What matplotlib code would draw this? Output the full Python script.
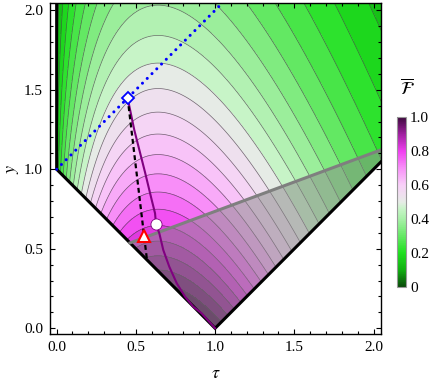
import numpy as np
import matplotlib
matplotlib.use("Agg")
import matplotlib.pyplot as plt
from matplotlib.colors import LinearSegmentedColormap, Normalize
from matplotlib.cm import ScalarMappable
from matplotlib.ticker import MultipleLocator, FormatStrFormatter

plt.rcParams['font.family'] = 'serif'
plt.rcParams['font.serif'] = ['Liberation Serif', 'DejaVu Serif']
plt.rcParams['mathtext.fontset'] = 'stix'

# average fidelity over the channel (tau, y); ensemble size
n_bar = 2.0
fid_levels = np.linspace(0.0, 1.0, 26)

# colour bar
cbar_stops = [0.0, 0.1, 0.2, 0.3, 0.4, 0.46, 0.5, 0.54, 0.6, 0.7, 0.8, 0.9, 1.0]
cbar_colors = ['#0a4a0a', '#10b010', '#20e020', '#64e864', '#a8f0a8', '#c8f4c8',
               '#e6ece6', '#eee0ee', '#f8d0f8', '#f890f8', '#f040f0', '#a020a0',
               '#3c0a3c']
cbar_ticks = [0.0, 0.2, 0.4, 0.6, 0.8, 1.0]
cbar_ticklabels = ['0', '0.2', '0.4', '0.6', '0.8', '1.0']

# physical region y >= |1 - tau|, tau >= 0
bound_tau = [0.0, 0.0, 1.0, 2.1]
bound_y = [2.1, 1.0, 0.0, 1.1]

# entanglement-breaking line (blue dots)
eb_tau = [0.0, 1.1]
eb_y = [1.0, 2.1]

# grey line and shaded part below it
gray_tau = [0.463, 2.06]
gray_y = [0.537, 1.127]

# purple path
path_tau = [0.448, 0.490, 0.558, 0.600, 0.621, 0.627, 0.648, 0.673, 0.711,
            0.758, 0.810, 0.862, 0.915, 1.0]
path_y = [1.448, 1.247, 0.980, 0.807, 0.723, 0.654, 0.597, 0.492, 0.387,
          0.283, 0.199, 0.136, 0.094, 0.0]

# dashed line
dash_tau = [0.448, 0.570]
dash_y = [1.448, 0.430]

# markers
diamond_pt = (0.448, 1.448)
circle_pt = (0.627, 0.654)
triangle_pt = (0.553, 0.580)

# ---------------------------------------------------------------
tau = np.linspace(-0.06, 2.1, 700)
yy = np.linspace(-0.06, 2.1, 700)
T, Y = np.meshgrid(tau, yy)
Tc = np.clip(T, 0, None)
F = np.exp(-(Tc + Y - 1 + 2 * n_bar * (1 - np.sqrt(Tc)) ** 2) / 2)

cmap = LinearSegmentedColormap.from_list('fid', list(zip(cbar_stops, cbar_colors)))
norm = Normalize(0, 1)

fig = plt.figure(figsize=(4.36, 3.85), dpi=100)
ax = fig.add_axes([50 / 436, 51 / 385, 331 / 436, 331 / 385])

ax.contourf(T, Y, F, levels=fid_levels, cmap=cmap, norm=norm, zorder=1)
ax.contour(T, Y, F, levels=fid_levels, colors='#404040', linewidths=0.5,
           alpha=0.75, zorder=2)

# grey shaded region below the grey line
ax.fill([gray_tau[0], gray_tau[1], gray_tau[1], 1.0],
        [gray_y[0], gray_y[1], gray_tau[1] - 1.0, 0.0],
        color='#888888', alpha=0.5, lw=0, zorder=2.5)

# blank out unphysical region
ax.fill([-0.1, -0.1, 0.0, 0.0, 1.0, 2.2, 2.2],
        [-0.1, 2.2, 2.2, 1.0, 0.0, 1.2, -0.1],
        color='white', lw=0, zorder=3)

ax.plot(bound_tau, bound_y, color='black', lw=2.2, zorder=4,
        solid_joinstyle='miter')
ax.plot(gray_tau, gray_y, color='#7f7f7f', lw=2.2, zorder=4)
ax.plot(path_tau, path_y, color='#800080', lw=1.5, zorder=5)
ax.plot(dash_tau, dash_y, color='black', lw=1.6, dashes=(2.2, 1.5), zorder=5)
ax.plot(eb_tau, eb_y, color='#0000ff', lw=2.2, linestyle=(0, (0.01, 2.2)),
        dash_capstyle='round', zorder=5)

ax.plot(*diamond_pt, marker='D', ms=6.6, mfc='white', mec='#0000ff', mew=1.3,
        zorder=6)
ax.plot(*circle_pt, marker='o', ms=8, mfc='white', mec='#800080', mew=0.6,
        zorder=6)
ax.plot(*triangle_pt, marker='^', ms=9, mfc='white', mec='#ff0000', mew=1.5,
        zorder=6)

ax.set_xlim(-0.042, 2.047)
ax.set_ylim(-0.036, 2.046)
ax.xaxis.set_major_locator(MultipleLocator(0.5))
ax.yaxis.set_major_locator(MultipleLocator(0.5))
ax.xaxis.set_minor_locator(MultipleLocator(0.1))
ax.yaxis.set_minor_locator(MultipleLocator(0.1))
ax.xaxis.set_major_formatter(FormatStrFormatter('%.1f'))
ax.yaxis.set_major_formatter(FormatStrFormatter('%.1f'))
ax.tick_params(which='both', direction='in', top=True, right=True,
               labelsize=11, width=0.8, pad=5)
ax.tick_params(which='major', length=3.5)
ax.tick_params(which='minor', length=2)
for s in ax.spines.values():
    s.set_linewidth(1.0)
    s.set_zorder(10)
ax.xaxis.set_zorder(10)
ax.yaxis.set_zorder(10)
ax.set_xlabel(r'$\tau$', fontsize=13, va='center', ha='center')
ax.set_ylabel(r'$y$', fontsize=13, va='center', ha='center')
ax.xaxis.set_label_coords(0.5, -0.12)
ax.yaxis.set_label_coords(-0.112, 0.5)

cax = fig.add_axes([397 / 436, 98 / 385, 9 / 436, 170 / 385])
cb = fig.colorbar(ScalarMappable(norm=norm, cmap=cmap), cax=cax)
cb.outline.set_edgecolor('#999999')
cb.outline.set_linewidth(0.8)
cb.set_ticks(cbar_ticks)
cb.set_ticklabels(cbar_ticklabels)
cax.tick_params(length=0, labelsize=11, pad=3)
fig.text(407 / 436, 1 - 88 / 385, r'$\overline{\mathcal{F}}$', fontsize=13,
         ha='center', va='center')

fig.savefig('out.png', dpi=100)
